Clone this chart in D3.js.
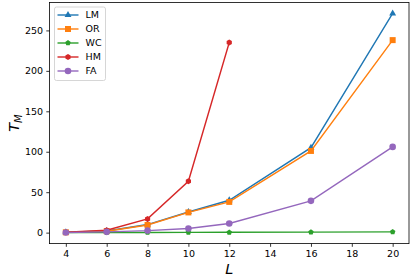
<!DOCTYPE html>
<html><head><meta charset="utf-8">
<script src="https://cdn.jsdelivr.net/npm/d3@7"></script>
<style>body{margin:0;background:#fff;}svg{display:block;font-family:"DejaVu Sans",sans-serif;}</style>
</head><body>
<svg id="c" width="415" height="277"></svg>
<script>
const L_all = [4, 6, 8, 10, 12, 16, 20];
const L_HM = [4, 6, 8, 10, 12];
const LM = [0.5, 2, 10, 25.5, 40, 105, 271];
const OR = [0.4, 1.8, 9.5, 25, 38, 101, 238];
const WC = [0, 0.1, 0.2, 0.3, 0.4, 0.6, 0.9];
const HM = [0.6, 3, 17, 63.5, 235];
const FA = [0.2, 1, 2.5, 5.2, 11.3, 39.3, 106];
const xTicks = [4, 6, 8, 10, 12, 14, 16, 18, 20];
const yTicks = [0, 50, 100, 150, 200, 250];
const seriesNames = ["LM", "OR", "WC", "HM", "FA"];
const colors = ["#1f77b4", "#ff7f0e", "#2ca02c", "#d62728", "#9467bd"];
const markers = ["triangle", "square", "pentagon", "hexagon", "circle"];

const series = [
  {name: "LM", xs: L_all, ys: LM},
  {name: "OR", xs: L_all, ys: OR},
  {name: "WC", xs: L_all, ys: WC},
  {name: "HM", xs: L_HM, ys: HM},
  {name: "FA", xs: L_all, ys: FA}
];

const svg = d3.select("#c");
const pL = 49.5, pR = 409, pT = 2.5, pB = 243.6;
const x = d3.scaleLinear().domain([3.2, 20.8]).range([pL, pR]);
const y = d3.scaleLinear().domain([-13.55, 284.5]).range([pB, pT]);

function poly(n, r, rot) {
  const pts = [];
  for (let i = 0; i < n; i++) {
    const a = rot + i * 2 * Math.PI / n;
    pts.push([r * Math.sin(a), -r * Math.cos(a)]);
  }
  return "M" + pts.map(p => p[0].toFixed(2) + "," + p[1].toFixed(2)).join("L") + "Z";
}
function markerPath(m) {
  if (m === "triangle") return poly(3, 4.0, 0);
  if (m === "square") return "M-3,-3L3,-3L3,3L-3,3Z";
  if (m === "pentagon") return poly(5, 2.9, 0);
  if (m === "hexagon") return poly(6, 3.0, 0);
  return null;
}
function drawMarker(g, m, cx, cy, col) {
  if (m === "circle") {
    g.append("circle").attr("cx", cx).attr("cy", cy).attr("r", 3.3).attr("fill", col);
  } else {
    g.append("path").attr("d", markerPath(m)).attr("transform", `translate(${cx},${cy})`).attr("fill", col);
  }
}

// axes
const xAxis = svg.append("g").attr("transform", `translate(0,${pB})`)
  .call(d3.axisBottom(x).tickValues(xTicks).tickSize(3.2).tickPadding(3.2).tickFormat(d3.format("d")));
const yAxis = svg.append("g").attr("transform", `translate(${pL},0)`)
  .call(d3.axisLeft(y).tickValues(yTicks).tickSize(3.2).tickPadding(3.2).tickFormat(d3.format("d")));
[xAxis, yAxis].forEach(a => {
  a.select(".domain").remove();
  a.selectAll("text").attr("font-size", "9.5px").attr("fill", "#000").attr("font-family", "DejaVu Sans");
  a.selectAll("line").attr("stroke", "#000").attr("stroke-width", 0.8);
});

// data lines
const line = d3.line().x(d => x(d[0])).y(d => y(d[1]));
series.forEach((s, i) => {
  const g = svg.append("g");
  const pts = s.xs.map((v, j) => [v, s.ys[j]]);
  g.append("path").attr("d", line(pts)).attr("fill", "none").attr("stroke", colors[i]).attr("stroke-width", 1.4);
  pts.forEach(p => drawMarker(g, markers[i], x(p[0]), y(p[1]), colors[i]));
});

// frame
svg.append("rect").attr("x", pL).attr("y", pT).attr("width", pR - pL).attr("height", pB - pT)
  .attr("fill", "none").attr("stroke", "#000").attr("stroke-width", 0.8);

// axis labels
svg.append("text").attr("x", (pL + pR) / 2).attr("y", 274).attr("text-anchor", "middle")
  .attr("font-size", "14.5px").attr("font-style", "italic").text("L");
const yl = svg.append("text").attr("transform", `translate(19,${(pT + pB) / 2}) rotate(-90)`)
  .attr("text-anchor", "middle").attr("font-size", "14.5px").attr("font-style", "italic");
yl.append("tspan").text("T");
yl.append("tspan").attr("font-size", "10px").attr("dy", 3).text("M");

// legend
const lg = svg.append("g");
lg.append("rect").attr("x", 54.5).attr("y", 7).attr("width", 51).attr("height", 73.5).attr("rx", 2)
  .attr("fill", "#fff").attr("fill-opacity", 0.8).attr("stroke", "#ccc").attr("stroke-width", 0.8);
seriesNames.forEach((n, i) => {
  const yy = 15 + i * 14;
  lg.append("line").attr("x1", 57.5).attr("x2", 78.5).attr("y1", yy).attr("y2", yy)
    .attr("stroke", colors[i]).attr("stroke-width", 1.4);
  drawMarker(lg, markers[i], 68, yy, colors[i]);
  lg.append("text").attr("x", 85.5).attr("y", yy + 3.4).attr("font-size", "9.5px").text(n);
});
</script>
</body></html>
